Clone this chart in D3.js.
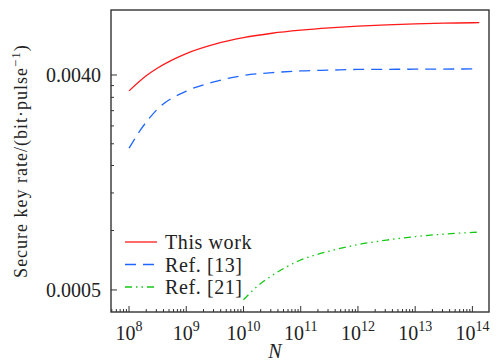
<!DOCTYPE html>
<html>
<head>
<meta charset="utf-8">
<script src="https://cdn.jsdelivr.net/npm/d3@7"></script>
<style>
  html, body { margin: 0; padding: 0; background: #fff; }
  text { font-family: "Liberation Serif", "DejaVu Serif", serif; fill: #222; }
</style>
</head>
<body>
<svg id="chart" width="497" height="361"></svg>
<script>
// values (log10 N, rate)
const redLogN = [8.0, 8.3, 8.5, 9.0, 9.5, 10.0, 10.5, 11.0, 11.5, 12.0, 12.5, 13.0, 13.5, 14.0, 14.12];
const redRate = [0.00343, 0.00397, 0.00428, 0.00492, 0.00539, 0.00574, 0.00599, 0.00617, 0.00631, 0.00642, 0.00650, 0.00656, 0.00660, 0.00663, 0.00664];

const blueLogN = [8.0, 8.2, 8.5, 9.0, 9.5, 10.0, 10.5, 11.0, 11.5, 12.0, 13.0, 14.0, 14.06];
const blueRate = [0.00197, 0.00235, 0.00288, 0.00342, 0.00375, 0.00398, 0.00409, 0.00416, 0.00419, 0.00422, 0.00423, 0.00424, 0.00424];

const greenLogN = [10.0, 10.25, 10.5, 11.0, 11.5, 12.0, 12.5, 13.0, 13.5, 14.0, 14.12];
const greenRate = [0.000455, 0.00052, 0.000575, 0.000668, 0.000728, 0.000775, 0.00081, 0.000838, 0.000858, 0.000872, 0.000875];

const seriesNames = ['This work', 'Ref. [13]', 'Ref. [21]'];
const yMajorTicks = [0.0005, 0.0040];
const yMinorTicks = [0.000889, 0.001278, 0.001667, 0.002056, 0.002444, 0.002833, 0.003222, 0.003611];
const xExponents = [8, 9, 10, 11, 12, 13, 14];

const W = 497, H = 361;
const margin = { top: 10, right: 8, bottom: 49, left: 111 };
const width = W - margin.left - margin.right;
const height = H - margin.top - margin.bottom;

const svg = d3.select('#chart');
const g = svg.append('g').attr('transform', 'translate(' + margin.left + ',' + margin.top + ')');

const x = d3.scaleLog().domain([Math.pow(10, 7.685), Math.pow(10, 14.29)]).range([0, width]);
const y = d3.scaleLog().domain([0.000404, 0.0075]).range([height, 0]);

// clip so curves stay inside the frame
svg.append('defs').append('clipPath').attr('id', 'clip')
  .append('rect').attr('width', width).attr('height', height);

// x ticks (inward, on bottom)
const xMinor = [];
for (let e = 7; e <= 14; e++) {
  for (let m = 2; m <= 9; m++) {
    const v = m * Math.pow(10, e);
    if (v > x.domain()[0] && v < x.domain()[1]) xMinor.push(v);
  }
}
g.append('g').selectAll('line').data(xMinor).enter().append('line')
  .attr('x1', d => x(d)).attr('x2', d => x(d))
  .attr('y1', height).attr('y2', height - 3)
  .attr('stroke', '#333').attr('stroke-width', 1);
g.append('g').selectAll('line').data(xExponents).enter().append('line')
  .attr('x1', d => x(Math.pow(10, d))).attr('x2', d => x(Math.pow(10, d)))
  .attr('y1', height).attr('y2', height - 6)
  .attr('stroke', '#333').attr('stroke-width', 1);

const xl = g.append('g').selectAll('text').data(xExponents).enter().append('text')
  .attr('x', d => x(Math.pow(10, d)))
  .attr('y', height + 28)
  .attr('text-anchor', 'middle')
  .style('font-size', '20px');
xl.append('tspan').text('10');
xl.append('tspan').attr('dy', -9).style('font-size', '14px').text(d => d);

// y ticks (inward, on left)
g.append('g').selectAll('line').data(yMinorTicks).enter().append('line')
  .attr('x1', 0).attr('x2', 3)
  .attr('y1', d => y(d)).attr('y2', d => y(d))
  .attr('stroke', '#333').attr('stroke-width', 1);
g.append('g').selectAll('line').data(yMajorTicks).enter().append('line')
  .attr('x1', 0).attr('x2', 6)
  .attr('y1', d => y(d)).attr('y2', d => y(d))
  .attr('stroke', '#333').attr('stroke-width', 1);
g.append('g').selectAll('text').data(yMajorTicks).enter().append('text')
  .attr('x', -10)
  .attr('y', d => y(d))
  .attr('dy', '0.35em')
  .attr('text-anchor', 'end')
  .style('font-size', '20px')
  .text(d => d3.format('.4f')(d));

// curves
const line = d3.line()
  .x(d => x(Math.pow(10, d[0])))
  .y(d => y(d[1]))
  .curve(d3.curveMonotoneX);

const series = [
  { name: seriesNames[0], pts: d3.zip(redLogN, redRate), color: '#ff1a1a', dash: null },
  { name: seriesNames[1], pts: d3.zip(blueLogN, blueRate), color: '#1f66ff', dash: '11,7' },
  { name: seriesNames[2], pts: d3.zip(greenLogN, greenRate), color: '#14c814', dash: '7,4,1.5,4,1.5,4' }
];

const plot = g.append('g').attr('clip-path', 'url(#clip)');
series.forEach(s => {
  plot.append('path')
    .datum(s.pts)
    .attr('d', line)
    .attr('fill', 'none')
    .attr('stroke', s.color)
    .attr('stroke-width', 1.3)
    .attr('stroke-dasharray', s.dash);
});

// frame
g.append('rect')
  .attr('width', width).attr('height', height)
  .attr('fill', 'none').attr('stroke', '#333').attr('stroke-width', 1.4);

// legend
const legY = [232, 254.5, 277];
series.forEach((s, i) => {
  g.append('line')
    .attr('x1', 14).attr('x2', 46)
    .attr('y1', legY[i]).attr('y2', legY[i])
    .attr('stroke', s.color).attr('stroke-width', 1.3)
    .attr('stroke-dasharray', s.dash);
  g.append('text')
    .attr('x', 54).attr('y', legY[i]).attr('dy', '0.35em')
    .style('font-size', '20px')
    .style('letter-spacing', '0.6px')
    .text(s.name);
});

// axis titles
svg.append('text')
  .attr('x', 275)
  .attr('y', 358)
  .attr('text-anchor', 'middle')
  .style('font-size', '20px')
  .style('font-style', 'italic')
  .text('N');

const yt = svg.append('text')
  .attr('transform', 'translate(27,' + 161 + ') rotate(-90)')
  .attr('text-anchor', 'middle')
  .style('font-size', '18px')
  .style('letter-spacing', '1px');
yt.append('tspan').text('Secure key rate/(bit·pulse');
yt.append('tspan').attr('dy', -7).style('font-size', '13px').text('−1');
yt.append('tspan').attr('dy', 7).text(')');
</script>
</body>
</html>
